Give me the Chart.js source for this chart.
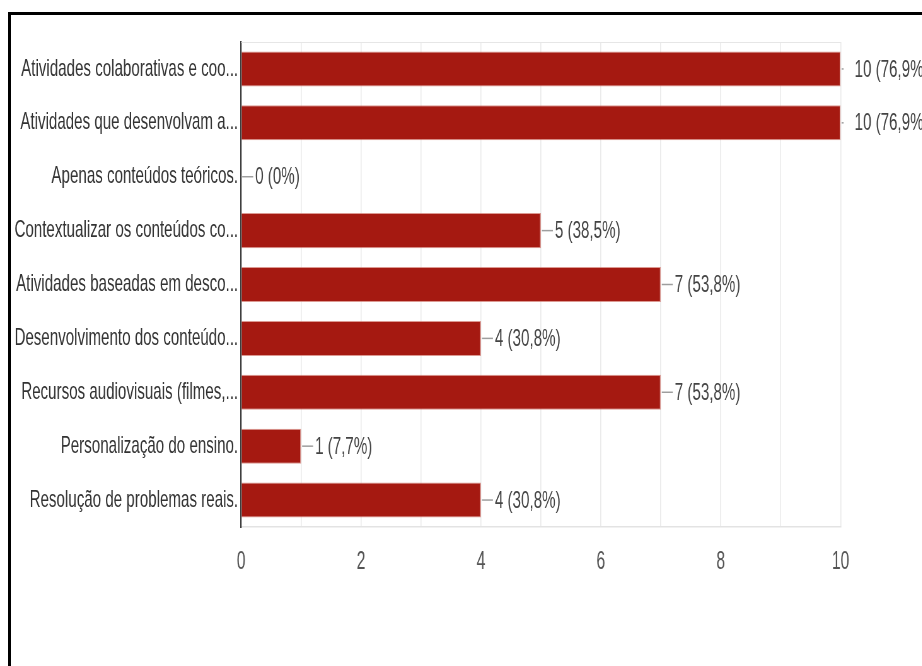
<!DOCTYPE html>
<html lang="pt-BR">
<head>
<meta charset="utf-8">
<title>Respostas</title>
<script src="https://cdn.jsdelivr.net/npm/chart.js@4/dist/chart.umd.min.js"></script>
<style>
  html, body { margin: 0; padding: 0; background: #fff; overflow: hidden; }
  body { width: 922px; height: 666px; position: relative; }
  /* the chart is laid out wide and then squeezed horizontally */
  #wrap { position: absolute; left: 0; top: 0; height: 666px; transform-origin: 0 0; }
  #frame { position: absolute; left: 8px; top: 12px; right: -10px; bottom: -10px;
           border-top: 3px solid #000; border-left: 3px solid #000; pointer-events: none; }
</style>
</head>
<body>
<div id="wrap"><canvas id="chart"></canvas></div>
<div id="frame"></div>
<script>
const categories = [
  'Atividades colaborativas e coo...',
  'Atividades que desenvolvam a...',
  'Apenas conteúdos teóricos.',
  'Contextualizar os conteúdos co...',
  'Atividades baseadas em desco...',
  'Desenvolvimento dos conteúdo...',
  'Recursos audiovisuais (filmes,...',
  'Personalização do ensino.',
  'Resolução de problemas reais.'
];
const responses = [10, 10, 0, 5, 7, 4, 7, 1, 4];
const respondents = 13;
const axisTicks = [0, 2, 4, 6, 8, 10];

// horizontal squeeze factor and helper to express widths in on-screen pixels
const SX = 0.63;
const px = n => n / SX;

const wrap = document.getElementById('wrap');
wrap.style.width = px(922) + 'px';
wrap.style.transform = 'scaleX(' + SX + ')';

const FONT = "'Liberation Sans', Arial, sans-serif";

function pctText(v) {
  const p = v / respondents * 100;
  const r = Math.round(p * 10) / 10;
  const s = Number.isInteger(r) ? String(r) : r.toFixed(1).replace('.', ',');
  return v + ' (' + s + '%)';
}

const valueLabels = {
  id: 'valueLabels',
  afterDatasetsDraw(chart) {
    const { ctx, chartArea } = chart;
    const meta = chart.getDatasetMeta(0);
    ctx.save();
    ctx.font = '24px ' + FONT;
    ctx.textBaseline = 'middle';
    ctx.textAlign = 'left';
    meta.data.forEach((bar, i) => {
      const x = bar.x, y = bar.y;
      const stemEnd = Math.min(x + px(12), chartArea.right + px(3));
      ctx.strokeStyle = '#9e9e9e';
      ctx.lineWidth = 1.5;
      ctx.beginPath();
      ctx.moveTo(x + px(1), y);
      ctx.lineTo(stemEnd, y);
      ctx.stroke();
      ctx.fillStyle = '#444';
      ctx.fillText(pctText(responses[i]), x + px(14), y + 1);
    });
    ctx.restore();
  }
};

const plotFrame = {
  id: 'plotFrame',
  beforeDatasetsDraw(chart) {
    const { ctx, chartArea } = chart;
    ctx.save();
    ctx.strokeStyle = '#e6e6e6';
    ctx.lineWidth = 1;
    ctx.beginPath();
    ctx.moveTo(chartArea.left, chartArea.top + 0.5);
    ctx.lineTo(chartArea.right, chartArea.top + 0.5);
    ctx.stroke();
    ctx.restore();
  }
};

new Chart(document.getElementById('chart'), {
  type: 'bar',
  data: {
    labels: categories,
    datasets: [{
      data: responses,
      backgroundColor: '#a51911',
      borderColor: 'rgba(205, 110, 100, 0.7)',
      borderWidth: { top: 1, bottom: 1, right: px(0.8), left: 0 },
      borderSkipped: 'left',
      barPercentage: 0.65,
      categoryPercentage: 1
    }]
  },
  options: {
    indexAxis: 'y',
    responsive: true,
    maintainAspectRatio: false,
    animation: false,
    layout: { padding: { top: 42, left: 0, right: px(82), bottom: 0 } },
    plugins: { legend: { display: false }, tooltip: { enabled: false } },
    scales: {
      x: {
        min: 0,
        max: 10,
        afterFit(scale) { scale.height = 666 - 527; },
        afterBuildTicks(scale) {
          scale.ticks = [];
          for (let v = scale.min; v <= scale.max; v++) scale.ticks.push({ value: v });
        },
        ticks: {
          autoSkip: false,
          maxRotation: 0,
          padding: 20,
          color: '#555',
          font: { family: FONT, size: 25 },
          callback: v => axisTicks.includes(v) ? String(v) : ''
        },
        grid: {
          drawTicks: false,
          lineWidth: px(1),
          color: c => c.tick && c.tick.value === 0 ? 'rgba(0,0,0,0)' : '#ebebeb'
        },
        border: { display: true, color: '#e3e3e3', width: 1.5 }
      },
      y: {
        afterFit(scale) { scale.width = px(241); },
        ticks: {
          autoSkip: false,
          padding: px(3),
          color: '#333',
          font: { family: FONT, size: 24 }
        },
        grid: { display: false, drawTicks: false },
        border: { display: true, color: '#333', width: px(1.4) }
      }
    }
  },
  plugins: [plotFrame, valueLabels]
});
</script>
</body>
</html>
